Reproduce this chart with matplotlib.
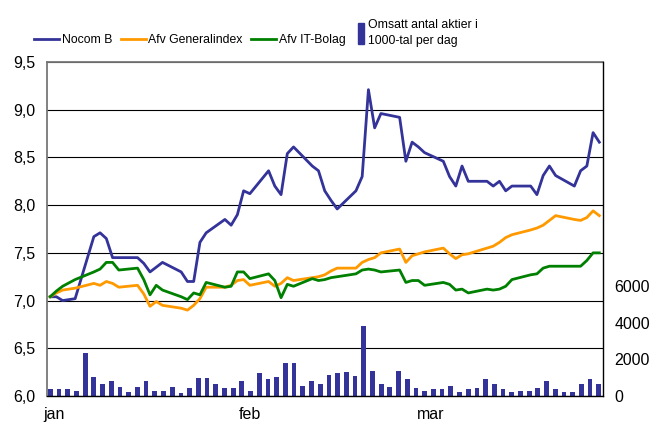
import matplotlib
matplotlib.use("Agg")
import matplotlib.pyplot as plt
import numpy as np
import pandas as pd
from matplotlib.patches import Patch
from matplotlib.lines import Line2D
from matplotlib.ticker import FuncFormatter

plt.rcParams["font.family"] = ["Liberation Sans", "DejaVu Sans"]
plt.rcParams["font.size"] = 10

# Stockholm trading days, Q1 2000 (Trettondagen 6 Jan closed)
days = pd.bdate_range("2000-01-03", "2000-03-31").drop(pd.Timestamp("2000-01-06"))

nocom = [7.04, 7.04, 7.00, 7.02, 7.67, 7.71, 7.65, 7.45, 7.45, 7.45, 7.39, 7.30, 7.35, 7.40, 7.30, 7.20, 7.20, 7.61, 7.71, 7.85,
         7.79, 7.90, 8.15, 8.12, 8.36, 8.20, 8.11, 8.54, 8.61, 8.41, 8.36, 8.15, 8.05, 7.96, 8.15, 8.30, 9.21, 8.81, 8.96, 8.92, 8.46,
         8.66, 8.61, 8.55, 8.46, 8.30, 8.20, 8.41, 8.25, 8.25, 8.20, 8.25, 8.15, 8.20, 8.20, 8.11, 8.31, 8.41, 8.31, 8.20, 8.36, 8.41, 8.76, 8.66]
general = [7.04, 7.08, 7.11, 7.13, 7.18, 7.16, 7.20, 7.18, 7.14, 7.16, 7.07, 6.94, 6.99, 6.95, 6.92, 6.90, 6.95, 7.02, 7.14, 7.14,
           7.16, 7.21, 7.22, 7.16, 7.20, 7.15, 7.18, 7.24, 7.21, 7.24, 7.25, 7.27, 7.31, 7.34, 7.34, 7.40, 7.43, 7.45, 7.50, 7.54, 7.40,
           7.47, 7.49, 7.51, 7.55, 7.49, 7.44, 7.48, 7.49, 7.55, 7.57, 7.61, 7.66, 7.69, 7.74, 7.76, 7.79, 7.84, 7.89, 7.85, 7.84, 7.87, 7.94, 7.89]
it_index = [7.04, 7.10, 7.15, 7.22, 7.30, 7.33, 7.40, 7.40, 7.32, 7.34, 7.22, 7.06, 7.16, 7.11, 7.04, 7.01, 7.08, 7.06, 7.19, 7.14,
            7.15, 7.30, 7.30, 7.23, 7.28, 7.21, 7.03, 7.17, 7.15, 7.23, 7.21, 7.22, 7.24, 7.25, 7.28, 7.32, 7.33, 7.32, 7.30, 7.32, 7.19,
            7.21, 7.21, 7.16, 7.19, 7.17, 7.11, 7.12, 7.08, 7.12, 7.11, 7.12, 7.15, 7.22, 7.27, 7.28, 7.34, 7.36, 7.36, 7.36, 7.36, 7.42, 7.50, 7.50]
volume = [400, 400, 400, 290, 2380, 1060, 680, 800, 510, 240, 510, 800, 290, 290, 510, 180, 460, 1000, 1000, 680,
          460, 460, 800, 290, 1280, 950, 1060, 1830, 1830, 570, 800, 680, 1170, 1280, 1340, 1120, 3860, 1390, 680, 510, 1390,
          950, 460, 290, 400, 400, 570, 240, 400, 460, 950, 680, 400, 240, 290, 290, 460, 840, 400, 240, 240, 680, 950, 680]

month_labels = ["jan", "feb", "mar"]
# Excel puts the month names a few days into each month
month_pos = pd.to_datetime(["2000-01-03 15:00", "2000-02-04 00:00", "2000-03-04 00:00"])

BLUE, ORANGE, GREEN = "#333399", "#FF9900", "#008000"
LEGEND_SIZE = 8.8

fig = plt.figure(figsize=(6.49, 4.25), dpi=100)
rect = [47.3 / 649, 29 / 425, 555.4 / 649, 334 / 425]

# price lines on a calendar axis
ax = fig.add_axes(rect, zorder=1)
ax.plot(days, nocom, color=BLUE, lw=2.0)
ax.plot(days, general, color=ORANGE, lw=2.0)
ax.plot(days, it_index, color=GREEN, lw=2.0)
ax.set_xlim(days[0] - pd.Timedelta(hours=11), days[-1] + pd.Timedelta(hours=13))
ax.set_ylim(6.0, 9.5)
ax.set_yticks(np.arange(6.0, 9.51, 0.5))
ax.yaxis.set_major_formatter(FuncFormatter(lambda v, _: f"{v:.1f}".replace(".", ",")))
ax.set_xticks(month_pos)
ax.set_xticklabels(month_labels)
ax.tick_params(axis="both", length=0, labelsize=11.5)
ax.tick_params(axis="y", pad=8.5)
ax.tick_params(axis="x", pad=8)
ax.grid(axis="y", color="black", lw=0.8)
ax.set_axisbelow(True)
for side in ["left", "top"]:
    ax.spines[side].set_color("#777777")
    ax.spines[side].set_linewidth(1.3)
for side in ["right", "bottom"]:
    ax.spines[side].set_visible(False)

# daily volume as evenly spaced bars, right-hand scale
axb = fig.add_axes(rect, zorder=2, facecolor="none")
axb.bar(np.arange(len(volume)), volume, width=0.55, color=BLUE)
axb.set_xlim(-0.35, len(volume) - 0.55)
axb.set_ylim(0, 18300)
axb.set_xticks([])
axb.yaxis.tick_right()
axb.set_yticks([0, 2000, 4000, 6000])
axb.tick_params(axis="y", length=0, pad=8.5, labelsize=11.5)
axb.spines["left"].set_visible(False)
axb.spines["top"].set_visible(False)
for side in ["right", "bottom"]:
    axb.spines[side].set_color("black")
    axb.spines[side].set_linewidth(1.0)

line_handles = [Line2D([], [], color=c, lw=2.0) for c in (BLUE, ORANGE, GREEN)]
fig.legend(line_handles, ["Nocom B", "Afv Generalindex", "Afv IT-Bolag"],
           ncol=3, frameon=False, loc="center left", bbox_to_anchor=(34 / 649, 1 - 40 / 425),
           borderpad=0, borderaxespad=0, handlelength=2.05, handletextpad=0.22, columnspacing=0.7,
           fontsize=LEGEND_SIZE)
leg = fig.legend([Patch(color=BLUE)], ["Omsatt antal aktier i\n1000-tal per dag"],
                 frameon=False, loc="center left", bbox_to_anchor=(358 / 649, 1 - 33 / 425),
                 borderpad=0, borderaxespad=0, handlelength=0.45, handleheight=2.3, handletextpad=0.35,
                 fontsize=LEGEND_SIZE)
for t in leg.get_texts():
    t.set_linespacing(1.55)

fig.savefig("out.png", dpi=100)
